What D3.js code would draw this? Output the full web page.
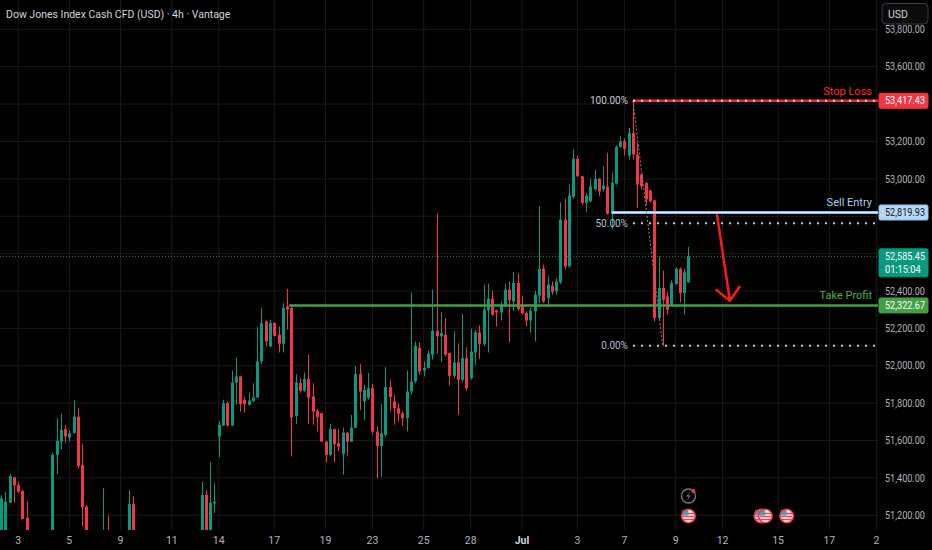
<!DOCTYPE html>
<html>
<head>
<meta charset="utf-8">
<script src="https://cdn.jsdelivr.net/npm/d3@7"></script>
<style>
  html, body { margin: 0; padding: 0; background: #000; }
  svg { display: block; font-family: Roboto, "Liberation Sans", sans-serif; }
</style>
</head>
<body>
<div id="chart"></div>
<script>
// 4h candles, one entry per bar (index 0 = first bar on screen)
var opens = [
  51068,51121,51267,51403,51362,51331,51187,51094,51000,50920,
  50960,51010,51060,51523,51594,51661,51615,51639,51728,51469,
  51246,51080,50990,51030,51010,51120,51050,50980,50940,50990,
  51040,51260,51060,50980,50910,50850,50900,50870,50810,50850,
  50890,50940,50910,50960,50990,51030,51050,51070,51309,51090,
  51264,51621,51680,51800,51680,51910,51943,51818,51791,51812,
  51830,52023,52237,52103,52229,52166,52118,52318,52309,51732,
  51907,51866,51930,51836,51759,51746,51594,51523,51661,51586,
  51528,51642,51594,51669,51955,51809,51828,51880,51648,51571,
  51630,51886,51809,51773,51746,51720,51862,51916,52095,51975,
  51988,52059,52187,52157,52166,52068,51946,52018,51925,52041,
  51934,52071,52178,52118,52296,52359,52296,52285,52326,52407,
  52344,52443,52326,52282,52242,52291,52375,52520,52362,52428,
  52398,52446,52782,52532,52904,53107,53014,52871,52880,52943,
  53000,52943,52960,52814,52975,53171,53201,53125,53246,53130,
  53023,52978,52937,52885,52255,52416,52371,52326,52437,52519,
  52389,52446];
var highs = [
  51308,51326,51421,51406,51380,51335,51276,51120,51050,50990,
  51030,51090,51535,51719,51743,51684,51656,51814,51773,51582,
  51255,51110,51060,51080,51345,51200,51100,51040,51010,51060,
  51335,51300,51090,51020,50960,50930,50950,50920,50880,50920,
  50960,50990,50980,51020,51060,51090,51100,51380,51335,51484,
  51371,51701,51818,51809,51975,52046,51946,51836,51857,51907,
  52207,52309,52243,52246,52232,52210,52336,52411,52318,51955,
  51934,51964,52059,51907,51768,51750,51598,51689,51666,51661,
  51669,51648,51737,51999,52009,51898,51962,51903,51675,51796,
  51993,51925,51844,51800,51755,51975,52392,52130,52125,52023,
  52082,52407,52814,52289,52255,52071,52184,52121,52277,52100,
  52198,52189,52216,52434,52439,52402,52300,52344,52439,52451,
  52502,52496,52375,52291,52309,52402,52853,52541,52478,52451,
  52466,52875,52894,52969,53157,53125,53018,52925,53000,53050,
  53005,53067,53139,53032,53178,53228,53214,53273,53417.43,53193,
  53028,52982,52943,52889,52585,52509,52396,52457,52526,52526,
  52519,52636];
var lows = [
  51040,51094,51266,51267,51319,51178,51040,50950,50880,50860,
  50900,50980,51040,51420,51550,51586,51594,51639,51451,51142,
  51020,50960,50930,50970,50990,51020,50950,50900,50880,50950,
  51020,51000,50950,50880,50820,50800,50840,50780,50760,50820,
  50850,50880,50870,50920,50950,50990,51000,51050,51050,51070,
  51213,51511,51678,51675,51678,51791,51755,51750,51788,51807,
  51828,52009,52103,52101,52155,52071,52071,52193,51514,51689,
  51855,51860,51689,51684,51648,51591,51482,51518,51482,51541,
  51416,51514,51593,51667,51764,51710,51818,51632,51398,51407,
  51621,51755,51684,51701,51678,51648,51844,51907,51952,51943,
  51984,52032,52064,52018,52050,51894,51935,51737,51910,51867,
  51925,52005,52036,52107,52071,52268,52210,52242,52321,52125,
  52294,52294,52277,52210,52175,52130,52336,52336,52317,52380,
  52380,52437,52514,52525,52894,53009,52862,52821,52873,52937,
  52907,52933,52809,52728,52969,53167,53125,53103,53103,52845,
  52943,52862,52873,52237,52246,52107,52273,52321,52434,52339,
  52273,52444];
var closes = [
  51291,51273,51410,51360,51326,51181,51094,51000,50920,50960,
  51010,51060,51523,51598,51657,51621,51639,51728,51464,51243,
  51080,50990,51030,51010,51120,51050,50980,50940,50990,51040,
  51260,51060,50980,50910,50850,50900,50870,50810,50850,50890,
  50940,50910,50960,50990,51030,51050,51070,51309,51090,51267,
  51273,51684,51800,51680,51910,51943,51795,51795,51814,51830,
  52023,52229,52130,52229,52160,52118,52309,52300,51723,51910,
  51866,51930,51830,51755,51725,51594,51523,51661,51580,51567,
  51642,51594,51669,51955,51862,51871,51880,51648,51571,51639,
  51886,51832,51773,51743,51720,51862,51916,52107,51969,51988,
  52064,52187,52157,52175,52059,51946,52018,51925,52041,51880,
  52076,52178,52118,52300,52359,52273,52285,52326,52407,52350,
  52443,52303,52282,52242,52294,52380,52518,52344,52434,52395,
  52450,52782,52532,52911,53107,53014,52871,52910,52960,53000,
  52933,52964,52814,52979,53171,53201,53161,53246,53130,52969,
  52960,52889,52880,52255,52416,52353,52300,52443,52519,52389,
  52500,52585.45];

// time axis: day labels and the bar index where each day starts
var dayLabels = ["3","5","9","11","14","17","19","23","25","28","Jul","3","7","9","12","15","17","2"];
var dayIndex  = [4,16,28,40,51,64,76,87,99,110,122,135,146,158,169,182,194,205];

var priceTicks = d3.range(51200, 53801, 200);

var title = "Dow Jones Index Cash CFD (USD) \u00b7 4h \u00b7 Vantage";

// trade plan
var stopLoss = 53417.43, sellEntry = 52819.93, takeProfit = 52322.67;
var lastPrice = 52585.45, countdown = "01:15:04";
var fibHigh = 53417.43, fibLow = 52107;
var fibLevels = [1, 0.5, 0];
var fibStart = 148, fibLowBar = 155, entryStart = 143, tpStart = 67.5;
var arrowFrom = { i: 167.7, p: 52805 }, arrowTo = { i: 170.7, p: 52348 };

// economic calendar markers (bar index)
var flagEvents = [161, 178, 179, 184];
var newsEvents = [161];

var width = 932, height = 550;
var paneW = 878, paneH = 530;

var candles = opens.map(function(o, i) {
  return { i: i, o: o, h: highs[i], l: lows[i], c: closes[i] };
});

var xScale = d3.scaleLinear().domain([0, 205]).range([1, 1 + 4.27 * 205]);
var yScale = d3.scaleLinear().domain([51200, 53800]).range([515.3, 29.3]);

var up = "#089981", down = "#f23645";
var fmt = d3.format(",.2f");

var svg = d3.select("#chart").append("svg")
    .attr("width", width)
    .attr("height", height);

svg.append("rect").attr("width", width).attr("height", height).attr("fill", "#000");

svg.append("defs").append("clipPath")
    .attr("id", "pane")
    .append("rect")
    .attr("width", paneW)
    .attr("height", paneH);

var pane = svg.append("g").attr("clip-path", "url(#pane)");

// grid
pane.selectAll(".hgrid")
    .data(priceTicks)
    .join("line")
    .attr("x1", 0).attr("x2", paneW)
    .attr("y1", d => yScale(d)).attr("y2", d => yScale(d))
    .attr("stroke", "#1a1a1a");

pane.selectAll(".vgrid")
    .data(dayIndex)
    .join("line")
    .attr("x1", d => xScale(d)).attr("x2", d => xScale(d))
    .attr("y1", 0).attr("y2", paneH)
    .attr("stroke", "#1a1a1a");

// last price dotted line
pane.append("line")
    .attr("x1", 0).attr("x2", paneW)
    .attr("y1", yScale(lastPrice)).attr("y2", yScale(lastPrice))
    .attr("stroke", up)
    .attr("stroke-width", 1)
    .attr("stroke-dasharray", "1,2");

// candles
var bw = 3;
var cg = pane.append("g");
cg.selectAll(".wick")
    .data(candles)
    .join("line")
    .attr("x1", d => Math.round(xScale(d.i)) + 0.5)
    .attr("x2", d => Math.round(xScale(d.i)) + 0.5)
    .attr("y1", d => yScale(d.h))
    .attr("y2", d => yScale(d.l))
    .attr("stroke", d => d.c >= d.o ? up : down)
    .attr("stroke-width", 1);

cg.selectAll(".body")
    .data(candles)
    .join("rect")
    .attr("x", d => Math.round(xScale(d.i)) - 1)
    .attr("width", bw)
    .attr("y", d => yScale(Math.max(d.o, d.c)))
    .attr("height", d => Math.max(1, Math.abs(yScale(d.o) - yScale(d.c))))
    .attr("fill", d => d.c >= d.o ? up : down);

// take profit line
pane.append("line")
    .attr("x1", xScale(tpStart)).attr("x2", paneW)
    .attr("y1", yScale(takeProfit)).attr("y2", yScale(takeProfit))
    .attr("stroke", "#43a047")
    .attr("stroke-width", 2.5);

// stop loss line
pane.append("line")
    .attr("x1", xScale(fibStart)).attr("x2", paneW)
    .attr("y1", yScale(stopLoss)).attr("y2", yScale(stopLoss))
    .attr("stroke", "#f7262f")
    .attr("stroke-width", 2.5);

// sell entry line
pane.append("line")
    .attr("x1", xScale(entryStart)).attr("x2", paneW)
    .attr("y1", yScale(sellEntry)).attr("y2", yScale(sellEntry))
    .attr("stroke", "#8fbfe8")
    .attr("stroke-width", 3);
pane.append("line")
    .attr("x1", xScale(entryStart)).attr("x2", paneW)
    .attr("y1", yScale(sellEntry)).attr("y2", yScale(sellEntry))
    .attr("stroke", "#d9ebfa")
    .attr("stroke-width", 1);

// fibonacci retracement
var fibPrice = function(l) { return fibLow + (fibHigh - fibLow) * l; };
pane.append("line")
    .attr("x1", xScale(fibStart)).attr("y1", yScale(fibHigh))
    .attr("x2", xScale(fibLowBar)).attr("y2", yScale(fibLow))
    .attr("stroke", "#8a8d96")
    .attr("stroke-width", 1)
    .attr("stroke-dasharray", "2,2");

pane.selectAll(".fib")
    .data(fibLevels)
    .join("line")
    .attr("x1", xScale(fibStart)).attr("x2", paneW)
    .attr("y1", d => yScale(fibPrice(d))).attr("y2", d => yScale(fibPrice(d)))
    .attr("stroke", d => d === 1 ? "#e8e8e8" : "#b8d8f2")
    .attr("stroke-width", 2)
    .attr("stroke-dasharray", "2,6");

pane.selectAll(".fibLabel")
    .data(fibLevels)
    .join("text")
    .attr("x", xScale(fibStart) - 5)
    .attr("y", d => yScale(fibPrice(d)))
    .attr("dy", "0.35em")
    .attr("text-anchor", "end")
    .attr("font-size", 10)
    .attr("fill", d => d === 1 ? "#c9ccd3" : "#aebfd0")
    .text(d => (d * 100).toFixed(2) + "%");

// red arrow
var ax1 = xScale(arrowFrom.i), ay1 = yScale(arrowFrom.p);
var ax2 = xScale(arrowTo.i), ay2 = yScale(arrowTo.p);
var ang = Math.atan2(ay1 - ay2, ax1 - ax2);
var head = 17, spread = 43 * Math.PI / 180;
pane.append("path")
    .attr("d", "M" + ax1 + "," + ay1 + "L" + ax2 + "," + ay2 +
      "M" + (ax2 + head * Math.cos(ang + spread)) + "," + (ay2 + head * Math.sin(ang + spread)) +
      "L" + ax2 + "," + ay2 +
      "L" + (ax2 + head * Math.cos(ang - spread)) + "," + (ay2 + head * Math.sin(ang - spread)))
    .attr("fill", "none")
    .attr("stroke", "#ff1a1a")
    .attr("stroke-width", 2.5)
    .attr("stroke-linecap", "round")
    .attr("stroke-linejoin", "round");

// line captions
var captions = [
  { t: "Stop Loss", p: stopLoss, c: "#ff2a2a" },
  { t: "Sell Entry", p: sellEntry, c: "#a9cdee" },
  { t: "Take Profit", p: takeProfit, c: "#4caf50" }
];
pane.selectAll(".cap")
    .data(captions)
    .join("text")
    .attr("x", paneW - 6)
    .attr("y", d => yScale(d.p) - 6)
    .attr("text-anchor", "end")
    .attr("font-size", 11)
    .attr("fill", d => d.c)
    .text(d => d.t);

// calendar markers
var evY = 516;
function flag(g, cx) {
  var f = g.append("g").attr("transform", "translate(" + cx + "," + evY + ")");
  f.append("circle").attr("r", 6.5).attr("fill", "#fff");
  [-3, 0, 3].forEach(function(dy) {
    f.append("rect").attr("x", -5.5).attr("y", dy - 0.3).attr("width", 11).attr("height", 1.6).attr("fill", "#e4485a");
  });
  f.append("rect").attr("x", -6).attr("y", -6).attr("width", 6).attr("height", 5.5).attr("fill", "#4e9fb3");
  f.append("circle").attr("r", 6.8).attr("fill", "none").attr("stroke", "#f23645").attr("stroke-width", 1.6);
}
var eg = pane.append("g");
flagEvents.forEach(function(d) { flag(eg, xScale(d)); });
newsEvents.forEach(function(d) {
  var n = eg.append("g").attr("transform", "translate(" + xScale(d) + "," + (evY - 20) + ")");
  n.append("circle").attr("r", 7).attr("fill", "#000").attr("stroke", "#787b86").attr("stroke-width", 1.3);
  n.append("path").attr("d", "M1.5,-4.5L-2,0.5L0.5,0.5L-1.5,4.5L2,-0.5L-0.5,-0.5Z").attr("fill", "#9598a1");
  n.append("circle").attr("cx", 5).attr("cy", -5).attr("r", 2).attr("fill", "#f23645");
});

// title
svg.append("text")
    .attr("x", 6).attr("y", 14)
    .attr("dy", "0.35em")
    .attr("font-size", 10.5)
    .attr("fill", "#d1d4dc")
    .text(title);

// price tags on the axis
var tags = [
  { p: stopLoss, bg: "#f23645", fg: "#fff", stroke: "#f23645", lines: [fmt(stopLoss)] },
  { p: sellEntry, bg: "#b4d7f4", fg: "#131722", stroke: "#8fbfe8", lines: [fmt(sellEntry)] },
  { p: lastPrice, bg: "#089981", fg: "#fff", stroke: "#089981", lines: [fmt(lastPrice), countdown] },
  { p: takeProfit, bg: "#43a047", fg: "#fff", stroke: "#43a047", lines: [fmt(takeProfit)] }
];

// price axis (labels hidden under a tag are skipped, as on the original)
var freeTicks = priceTicks.filter(function(t) {
  var y = yScale(t);
  return !tags.some(function(d) {
    var top = yScale(d.p) - 7.5, bot = top + (d.lines.length > 1 ? 28 : 15);
    return y > top - 6 && y < bot + 6;
  });
});
svg.selectAll(".plabel")
    .data(freeTicks)
    .join("text")
    .attr("x", 885)
    .attr("y", d => yScale(d))
    .attr("dy", "0.35em")
    .attr("font-size", 10.5)
    .attr("textLength", 40)
    .attr("lengthAdjust", "spacingAndGlyphs")
    .attr("fill", "#b2b5be")
    .text(d => fmt(d));

// time axis
svg.selectAll(".tlabel")
    .data(dayIndex)
    .join("text")
    .attr("x", d => xScale(d))
    .attr("y", 540)
    .attr("dy", "0.35em")
    .attr("text-anchor", "middle")
    .attr("font-size", 10.5)
    .attr("font-weight", (d, i) => dayLabels[i] === "Jul" ? 700 : 400)
    .attr("fill", (d, i) => dayLabels[i] === "Jul" ? "#d1d4dc" : "#b2b5be")
    .text((d, i) => dayLabels[i]);

var tg = svg.selectAll(".tag")
    .data(tags)
    .join("g")
    .attr("transform", d => "translate(879," + yScale(d.p) + ")");
tg.append("rect")
    .attr("x", 0).attr("y", -7.5)
    .attr("width", 49)
    .attr("height", d => d.lines.length > 1 ? 28 : 15)
    .attr("rx", 1.5)
    .attr("fill", d => d.bg)
    .attr("stroke", d => d.stroke);
tg.each(function(d) {
  var g = d3.select(this);
  d.lines.forEach(function(s, k) {
    g.append("text")
      .attr("x", 6).attr("y", k * 13)
      .attr("dy", "0.35em")
      .attr("font-size", 10.5)
      .attr("textLength", s.length * 4.45)
      .attr("lengthAdjust", "spacingAndGlyphs")
      .attr("fill", d.fg)
      .text(s);
  });
});

// currency button
svg.append("rect")
    .attr("x", 882).attr("y", 3.5)
    .attr("width", 46).attr("height", 20.5)
    .attr("rx", 4)
    .attr("fill", "#0b0b0b")
    .attr("stroke", "#3a3d45");
svg.append("text")
    .attr("x", 888).attr("y", 14)
    .attr("dy", "0.35em")
    .attr("font-size", 10.5)
    .attr("fill", "#d1d4dc")
    .text("USD");
</script>
</body>
</html>
